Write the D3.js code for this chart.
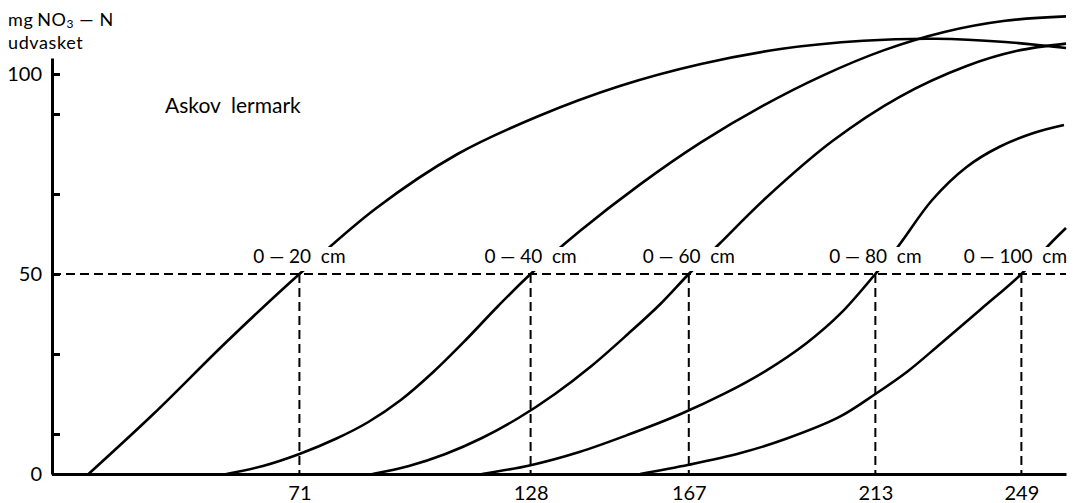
<!DOCTYPE html>
<html>
<head>
<meta charset="utf-8">
<script src="https://cdn.jsdelivr.net/npm/d3@7"></script>
<style>
  body { margin: 0; background: #fff; }
  svg { display: block; font-family: Lato, "Open Sans", sans-serif; }
</style>
</head>
<body>
<div class="chart"></div>
<script>
// Data (x = unnamed quantity, y = mg NO3-N udvasket)
var depthLabels = ["0 — 20  cm", "0 — 40  cm", "0 — 60  cm", "0 — 80  cm", "0 — 100  cm"];
var crossX = [71, 128, 167, 213, 249];   // where each curve reaches 50
var yTickValues = [0, 10, 30, 50, 70, 90, 100];
var yLabelValues = [0, 50, 100];

var curve20 = [[19, 0], [35, 15], [53, 33], [71, 50], [90, 66.5], [110, 80], [130, 89.5], [150, 97],
  [170, 102.5], [190, 106.3], [210, 108.3], [228, 108.8], [245, 108], [260, 106.5]];
var curve40 = [[53, 0], [62, 2], [71, 5], [80, 8.8], [88, 13], [96, 18.5], [104, 25.5], [112, 33.5],
  [120, 42], [128, 50], [140, 60.6], [155, 72.4], [170, 82.9], [185, 91.9], [200, 99.6], [215, 105.9],
  [230, 110.5], [245, 113.3], [260, 114.4]];
var curve60 = [[89, 0], [98, 2], [107, 5], [116, 9], [125, 14], [134, 20], [143, 27], [152, 35],
  [160, 42.5], [167, 50], [174.5, 57.5], [186, 69], [202.5, 83.3], [219, 94.3], [235.5, 102],
  [248, 105.8], [260, 107.6]];
var curve80 = [[116, 0], [128, 2.2], [140, 5.5], [152, 9.8], [165, 15], [176, 20.2], [186, 25.8],
  [196, 32.7], [204.5, 40.2], [213, 50], [218.5, 56.75], [227, 68.5], [235.5, 76.75], [243.5, 81.75],
  [252, 85.25], [259.5, 87.25]];
var curve100 = [[155, 0], [167, 2.3], [180, 5.3], [191, 8.8], [204, 14.2], [213, 20], [221, 25.7],
  [229, 32.5], [239, 41.2], [249, 50], [256.5, 58], [260, 61.5]];
var curves = [curve20, curve40, curve60, curve80, curve100];

var svgWidth = 1073;
var svgHeight = 503;

var svg = d3.select(".chart").append("svg").attr("width", svgWidth).attr("height", svgHeight);
svg.append("rect").attr("width", svgWidth).attr("height", svgHeight).attr("fill", "#fff");

// scales
var x = d3.scaleLinear().domain([10, 260]).range([52, 1066]);
var y = d3.scaleLinear().domain([0, 104]).range([474, 58]);

// dashed guide lines at 50
svg.append("line")
  .attr("x1", x(10)).attr("x2", x(260))
  .attr("y1", y(50)).attr("y2", y(50))
  .attr("stroke", "#000").attr("stroke-width", 2).attr("stroke-dasharray", "9,5");

svg.selectAll(".drop")
  .data(crossX)
  .enter()
  .append("line")
  .attr("class", "drop")
  .attr("x1", d => x(d)).attr("x2", d => x(d))
  .attr("y1", y(50)).attr("y2", y(0))
  .attr("stroke", "#000").attr("stroke-width", 2).attr("stroke-dasharray", "9,5");

// curves
var line = d3.line()
  .x(d => x(d[0]))
  .y(d => y(d[1]))
  .curve(d3.curveCatmullRom.alpha(0.5));

svg.selectAll(".curve")
  .data(curves)
  .enter()
  .append("path")
  .attr("class", "curve")
  .attr("d", line)
  .attr("fill", "none")
  .attr("stroke", "#000")
  .attr("stroke-width", 2.6);

// depth labels, white box behind breaks the curve like the original
var labels = svg.selectAll(".depth")
  .data(depthLabels)
  .enter()
  .append("g")
  .attr("class", "depth");

labels.append("rect").attr("fill", "#fff");
labels.append("text")
  .attr("x", (d, i) => x(crossX[i]) - (i == 4 ? 6 : 0))
  .attr("y", y(50) - 11)
  .attr("text-anchor", "middle")
  .attr("font-size", 19)
  .style("white-space", "pre")
  .text(d => d);

labels.each(function() {
  var g = d3.select(this);
  var b = g.select("text").node().getBBox();
  g.select("rect")
    .attr("x", b.x - 2).attr("y", b.y + 3)
    .attr("width", b.width + 4).attr("height", b.height + 1);
});

// y axis
var yAxis = d3.axisLeft(y)
  .tickValues(yTickValues)
  .tickSizeInner(-8)
  .tickSizeOuter(0)
  .tickPadding(10)
  .tickFormat(d => yLabelValues.includes(d) ? d : "");

var yg = svg.append("g").attr("transform", "translate(" + x(10) + ",0)").call(yAxis);
yg.selectAll("path, line").attr("stroke", "#000").attr("stroke-width", 3);
yg.selectAll("text").attr("font-size", 20).attr("font-family", "Lato").attr("fill", "#000");

// x axis
var xAxis = d3.axisBottom(x)
  .tickValues(crossX)
  .tickSize(0)
  .tickSizeOuter(0)
  .tickPadding(12);

var xg = svg.append("g").attr("transform", "translate(0," + y(0) + ")").call(xAxis);
xg.select("path").attr("stroke", "#000").attr("stroke-width", 3);
xg.selectAll("text").attr("font-size", 20).attr("font-family", "Lato").attr("fill", "#000");

// titles
var t = svg.append("text").attr("x", 8).attr("y", 26).attr("font-size", 18)
  .attr("letter-spacing", 0.6);
t.append("tspan").text("mg");
t.append("tspan").attr("dx", 4).text("NO");
t.append("tspan").attr("dy", 2).attr("font-size", 12).text("3");
t.append("tspan").attr("dy", -2).text(" — N");

svg.append("text").attr("x", 8).attr("y", 49).attr("font-size", 18)
  .attr("letter-spacing", 0.6).text("udvasket");

svg.append("text").attr("x", 165).attr("y", 113).attr("font-size", 21)
  .style("white-space", "pre")
  .text("Askov  lermark");
</script>
</body>
</html>
